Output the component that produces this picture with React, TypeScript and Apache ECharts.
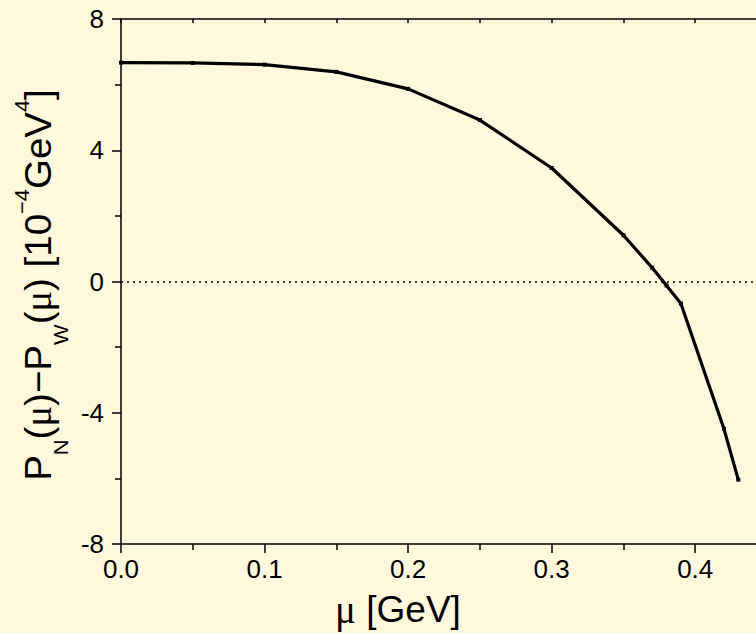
import React, { useEffect, useRef } from "react";
import * as echarts from "echarts";

// chemical potential μ [GeV]
const muValues: number[] = [0, 0.05, 0.1, 0.15, 0.2, 0.25, 0.3, 0.35, 0.37, 0.38, 0.39, 0.42, 0.43];
// pressure difference P_N(μ) − P_W(μ) in units of 10^-4 GeV^4
const pressureDiff: number[] = [6.67, 6.66, 6.61, 6.39, 5.87, 4.92, 3.46, 1.41, 0.42, -0.12, -0.67, -4.49, -6.04];

const xMin = 0;
const xMax = 0.45;
const xStep = 0.1;
const yMin = -8;
const yMax = 8;
const yStep = 4;

const SANS = "'Liberation Sans', Arial, sans-serif";
const SERIF = "'Liberation Serif', 'Times New Roman', serif";
const INK = "#000000";
const PAPER = "#fff8dc";

export default function App() {
  const ref = useRef<HTMLDivElement | null>(null);

  useEffect(() => {
    if (!ref.current) return;
    const chart = echarts.init(ref.current, null, { renderer: "svg" });

    const points = muValues.map((m, i) => [m, pressureDiff[i]]);

    // rich-text pieces of the rotated y-axis title (line box 80px, main text centred)
    const titleMain = { fontFamily: SANS, fontSize: 37, lineHeight: 80, verticalAlign: "middle", fill: INK };
    const titleMu = { fontFamily: SERIF, fontSize: 37, lineHeight: 80, verticalAlign: "middle", fill: INK };
    const titleSub = { fontFamily: SANS, fontSize: 21, verticalAlign: "bottom", padding: [0, 0, 6, 0], fill: INK };
    const titleSup = { fontFamily: SANS, fontSize: 21, verticalAlign: "top", padding: [14, 0, 0, 0], fill: INK };

    chart.setOption({
      animation: false,
      backgroundColor: PAPER,
      grid: {
        left: 121,
        top: 19,
        width: 646,
        height: 525,
        containLabel: false,
        outerBoundsMode: "none",
      },
      xAxis: [
        {
          type: "value",
          position: "bottom",
          min: xMin,
          max: xMax,
          interval: xStep,
          axisLine: { show: true, onZero: false, lineStyle: { color: INK, width: 1.5 } },
          axisTick: { show: true, inside: false, length: 9, lineStyle: { color: INK, width: 1.5 } },
          minorTick: { show: true, splitNumber: 2, length: 6, lineStyle: { color: INK, width: 1.5 } },
          splitLine: { show: false },
          minorSplitLine: { show: false },
          axisLabel: {
            color: INK,
            fontFamily: SANS,
            fontSize: 26,
            margin: 12,
            showMaxLabel: false,
            hideOverlap: false,
            formatter: (v: number) => v.toFixed(1),
          },
        },
        {
          type: "value",
          position: "top",
          min: xMin,
          max: xMax,
          interval: xStep,
          axisLine: { show: true, onZero: false, lineStyle: { color: INK, width: 1.5 } },
          axisTick: { show: true, inside: true, length: 4, lineStyle: { color: INK, width: 1.5 } },
          minorTick: { show: true, splitNumber: 2, length: 4, lineStyle: { color: INK, width: 1.5 } },
          splitLine: { show: false },
          axisLabel: { show: false },
        },
      ],
      yAxis: {
        type: "value",
        min: yMin,
        max: yMax,
        interval: yStep,
        axisLine: { show: true, onZero: false, lineStyle: { color: INK, width: 1.5 } },
        axisTick: { show: true, inside: false, length: 9, lineStyle: { color: INK, width: 1.5 } },
        minorTick: { show: true, splitNumber: 2, length: 6, lineStyle: { color: INK, width: 1.5 } },
        splitLine: { show: false },
        minorSplitLine: { show: false },
        axisLabel: { color: INK, fontFamily: SANS, fontSize: 26, margin: 17 },
      },
      series: [
        {
          type: "line",
          xAxisIndex: 0,
          data: points,
          showSymbol: true,
          symbol: "rect",
          symbolSize: 4,
          itemStyle: { color: INK },
          lineStyle: { color: INK, width: 3.2 },
          markLine: {
            silent: true,
            symbol: ["none", "none"],
            label: { show: false },
            lineStyle: { color: INK, width: 1.5, type: [2, 4] },
            data: [{ yAxis: 0 }],
          },
        },
      ],
      graphic: [
        {
          type: "text",
          x: 398,
          y: 609,
          style: {
            text: "{mu|μ}{t| [GeV]}",
            align: "center",
            verticalAlign: "middle",
            rich: {
              mu: { fontFamily: SERIF, fontSize: 39, fill: INK },
              t: { fontFamily: SANS, fontSize: 37, fill: INK },
            },
          },
        },
        {
          type: "text",
          x: 38,
          y: 285,
          rotation: Math.PI / 2,
          scaleX: 1.04,
          style: {
            text:
              "{m|P}{s|N}{m|(}{u|μ}{m|)−P}{s|W}{m|(}{u|μ}{m|) [10}{p|−4}{m|GeV}{p|4}{m|]}",
            align: "center",
            verticalAlign: "middle",
            rich: { m: titleMain, u: titleMu, s: titleSub, p: titleSup },
          },
        },
      ],
    });

    return () => {
      chart.dispose();
    };
  }, []);

  return (
    <div
      ref={ref}
      style={{ position: "fixed", left: 0, top: 0, width: 756, height: 633 }}
    />
  );
}
